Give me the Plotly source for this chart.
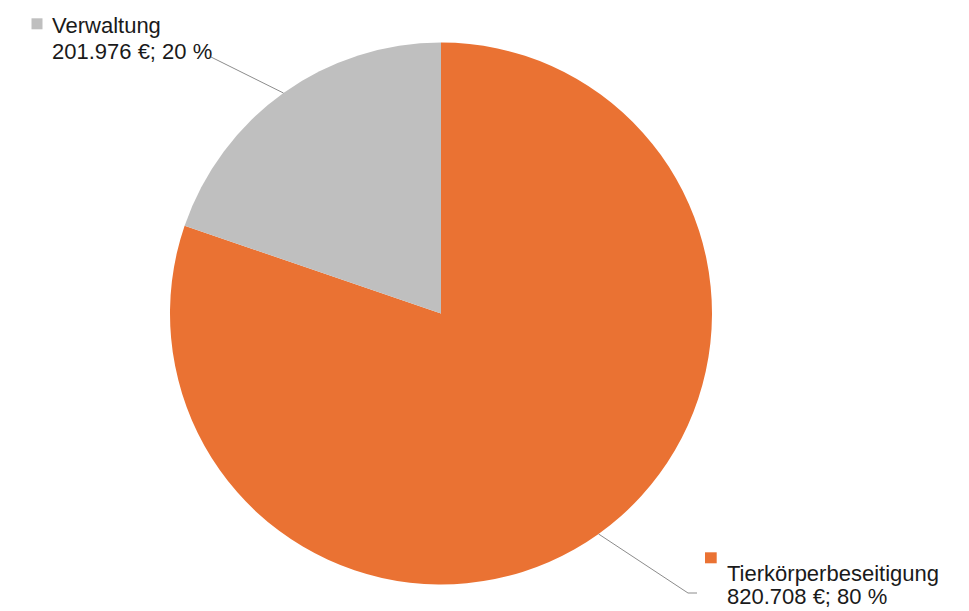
import math
import plotly.graph_objects as go

# ---- data ----
categories = ["Tierkörperbeseitigung", "Verwaltung"]
values = [820708, 201976]
value_labels = ["820.708 €", "201.976 €"]
percent_labels = ["80 %", "20 %"]
colors = ["#EA7233", "#BFBFBF"]

W, H = 969, 611

# pie geometry in pixels (layout)
cx, cy, r = 441, 313.5, 271

def px_to_paper(x, y):
    return x / W, 1 - y / H

fig = go.Figure()
fig.add_trace(go.Pie(
    labels=categories,
    values=values,
    sort=False,
    direction="clockwise",
    rotation=0,
    marker=dict(colors=colors, line=dict(width=0)),
    textinfo="none",
    hoverinfo="label+value+percent",
    showlegend=False,
    domain=dict(x=[(cx - r) / W, (cx + r) / W], y=[1 - (cy + r) / H, 1 - (cy - r) / H]),
))

# slice mid-angles from data
total = sum(values)
mids = []
acc = 0
for v in values:
    mids.append((acc + v / 2) / total * 2 * math.pi)
    acc += v

def edge_point(ang):
    return cx + r * math.sin(ang), cy - r * math.cos(ang)

# label layout
label_layout = {
    "Tierkörperbeseitigung": dict(tx=725.5, y1=573.5, y2=596.0, sq=(705, 552.3, 716.7, 563.3),
                                  path=[(688, 593), (697, 593)]),
    "Verwaltung": dict(tx=50.5, y1=25.8, y2=51.8, sq=(31.5, 18.3, 42.5, 29.3),
                       path=[(211, 57)]),
}

font = dict(family="Liberation Sans, Arial, sans-serif", size=22, color="#1a1a1a")
shapes = []
annotations = []
for i, cat in enumerate(categories):
    L = label_layout[cat]
    pts = [edge_point(mids[i])] + L["path"]
    for (x0, y0), (x1, y1) in zip(pts[:-1], pts[1:]):
        a0, b0 = px_to_paper(x0, y0)
        a1, b1 = px_to_paper(x1, y1)
        shapes.append(dict(type="line", xref="paper", yref="paper", x0=a0, y0=b0, x1=a1, y1=b1,
                           line=dict(color="#8c8c8c", width=1)))
    sx0, sy0, sx1, sy1 = L["sq"]
    a0, b0 = px_to_paper(sx0, sy0)
    a1, b1 = px_to_paper(sx1, sy1)
    shapes.append(dict(type="rect", xref="paper", yref="paper", x0=a0, y0=b0, x1=a1, y1=b1,
                       fillcolor=colors[i], line=dict(width=0)))
    for txt, yy in [(cat, L["y1"]), (f"{value_labels[i]}; {percent_labels[i]}", L["y2"])]:
        ax, ay = px_to_paper(L["tx"], yy)
        annotations.append(dict(text=txt, x=ax, y=ay, xref="paper", yref="paper",
                                xanchor="left", yanchor="middle", showarrow=False,
                                font=font, borderpad=0))

fig.update_layout(
    width=W, height=H,
    margin=dict(l=0, r=0, t=0, b=0),
    paper_bgcolor="white",
    plot_bgcolor="white",
    shapes=shapes,
    annotations=annotations,
)

fig.write_html(
    "out.html",
    config={"displayModeBar": False},
    post_script="document.body.style.margin='0';document.body.style.overflow='hidden';",
)
